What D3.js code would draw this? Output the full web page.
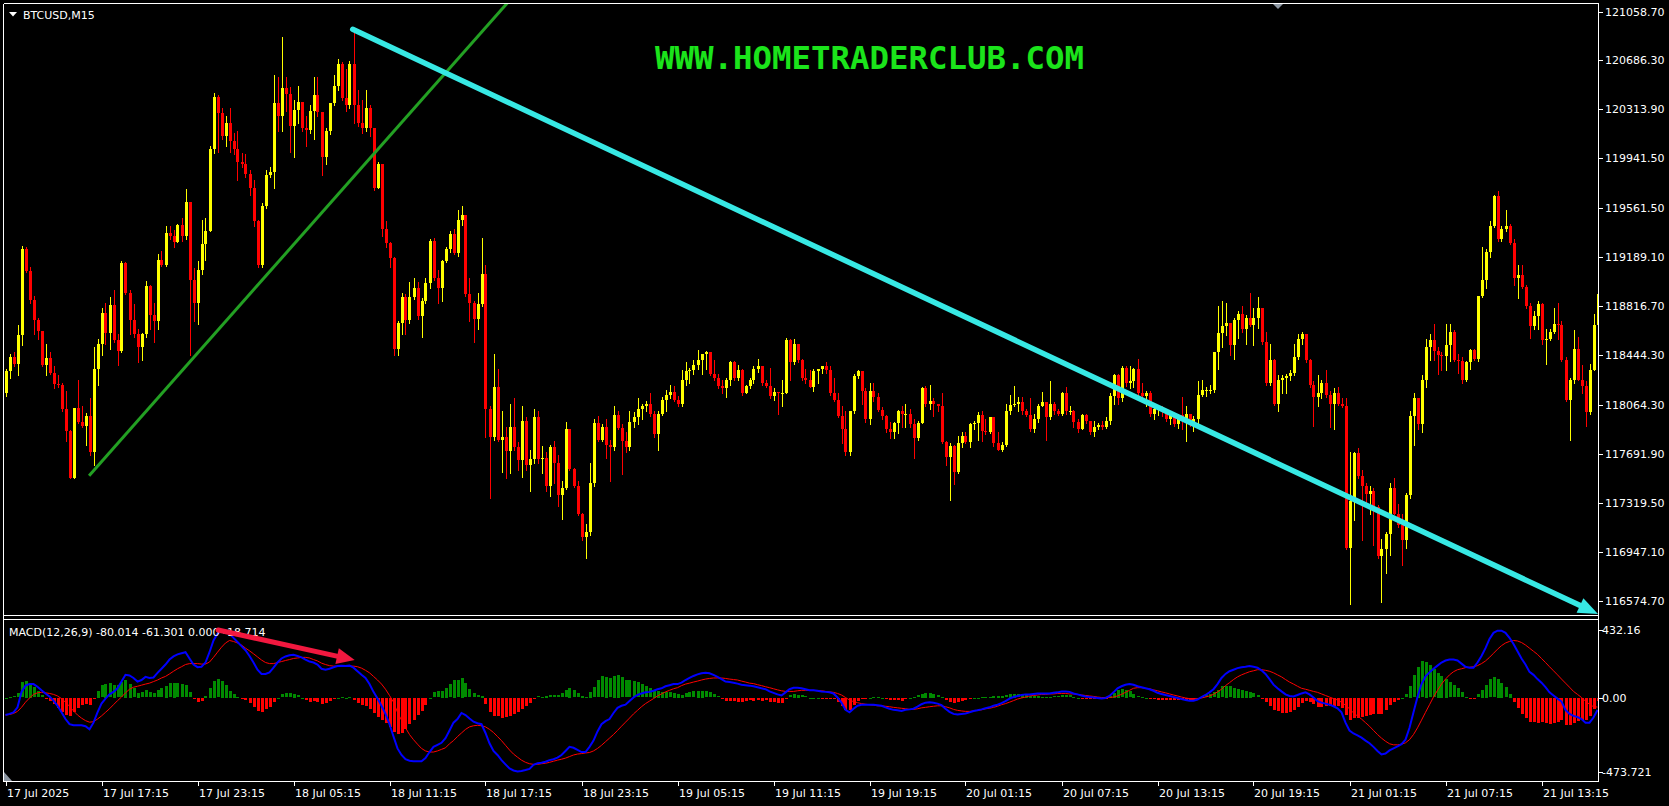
<!DOCTYPE html>
<html>
<head>
<meta charset="utf-8">
<script src="https://cdn.jsdelivr.net/npm/d3@7/dist/d3.min.js"></script>
<style>
  html, body { margin: 0; padding: 0; background: #000; overflow: hidden; }
  svg { display: block; }
</style>
</head>
<body>
<div class="chart"></div>
<script>
var svgWidth = 1669;
var svgHeight = 806;

// ---------------- data ----------------
var symbolLabel = "BTCUSD,M15";
var macdLabel = "MACD(12,26,9) -80.014 -61.301 0.000 -18.714";
var watermark = "WWW.HOMETRADERCLUB.COM";

// M15 bars, open of each bar = close of the bar before
var firstOpen = 118152;
var closes = [
118320,118426,118375,118594,119248,119083,118864,118712,118629,118367,
118418,118308,118226,118218,118034,117866,117506,118042,117937,117905,
117976,117702,118336,118531,118766,118610,118825,118555,118477,119142,
118915,118712,118602,118504,118602,118966,118751,118700,119169,119130,
119373,119346,119306,119432,119346,119612,119013,118837,119091,119287,
119385,120011,120410,120285,120109,120207,120070,120011,119913,119894,
119823,119717,119463,119130,119580,119815,119835,120363,120265,120473,
120434,120187,120312,120371,120168,120160,120305,120422,120293,119952,
120148,120363,120488,120657,120402,120344,120657,120344,120207,120168,
120324,120175,119717,119901,119404,119299,119181,118492,118688,118884,
118712,118884,118954,118739,118856,118993,119314,119033,118954,119158,
119248,119365,119220,119471,119510,118907,118837,118719,118829,119064,
118034,117819,118203,117800,117819,117710,117897,117741,117643,117944,
117604,117655,117968,117655,117663,117447,117741,117624,117381,117428,
117878,117576,117447,117232,117056,117095,117467,117929,117800,117897,
117760,117741,117984,117890,117788,117741,117937,117968,118034,118054,
118074,117995,117839,117995,118101,118140,118164,118101,118074,118250,
118320,118328,118367,118406,118453,118465,118297,118269,118211,118191,
118250,118387,118269,118328,118152,118211,118250,118336,118359,118230,
118211,118132,118164,118152,118152,118555,118387,118531,118406,118269,
118250,118203,118320,118336,118359,118328,118152,118101,117976,117878,
117702,118015,118281,118320,118171,117956,118171,118124,118022,117976,
117878,117858,117929,118015,117995,117995,117917,117811,117929,118191,
118074,118093,118074,118054,117780,117670,117749,117553,117772,117827,
117780,117917,117929,117984,117866,117858,117968,117772,117721,117760,
118015,118062,118074,118085,118015,117984,117878,117956,118054,118085,
117968,118074,118015,117995,118152,118015,118015,117937,117878,117984,
117944,117858,117897,117913,117897,117944,118132,118289,118113,118348,
118230,118242,118336,118152,118132,118152,117995,118034,118046,118015,
117956,117984,117917,117984,117956,117995,117937,117956,118140,118179,
118179,118179,118465,118610,118661,118688,118516,118712,118759,118641,
118727,118672,118727,118798,118543,118230,118406,118074,118250,118269,
118281,118308,118426,118563,118602,118406,118218,118124,118152,118230,
118140,118074,118152,118074,118054,116978,117330,117694,117526,117447,
117389,117408,117290,116911,116966,117083,117428,117232,117146,117036,
117381,117976,118113,117917,118250,118504,118555,118477,118445,118438,
118516,118621,118406,118398,118257,118387,118485,118414,118896,119013,
119228,119424,119651,119326,119404,119424,119299,119033,119052,118962,
118817,118661,118739,118829,118555,118563,118621,118680,118672,118406,
118101,118257,118492,118257,118211,118007,118328,118672,118907
];
var highs = [
118336,118453,118465,118672,119275,119267,119111,118895,118727,118621,
118531,118465,118359,118289,118230,118171,117870,118042,118257,118054,
118003,118113,118504,118563,118798,118837,118884,118935,118602,119158,
119150,118935,118829,118641,118610,119005,118974,118837,119209,119236,
119424,119424,119393,119443,119483,119706,119612,119103,119158,119471,
119483,120031,120441,120422,120324,120265,120324,120136,120148,119980,
119972,119854,119776,119471,119600,119854,119874,120578,120559,120864,
120559,120481,120383,120488,120371,120265,120344,120559,120559,120293,
120168,120363,120578,120696,120676,120622,120684,120892,120461,120383,
120461,120344,120175,119913,119901,119463,119306,119189,118700,118915,
118907,119001,119033,119001,118876,119033,119326,119338,119091,119169,
119267,119385,119404,119549,119580,119510,119033,118856,118915,119338,
119130,118054,118453,118336,118015,117897,118074,118113,117780,118054,
117968,117721,118034,118015,117749,117702,117760,117788,117682,117486,
117937,117878,117584,117486,117240,117154,117624,117956,117976,117917,
117956,117800,118054,118015,117917,117858,118015,118007,118113,118074,
118093,118152,118015,118015,118125,118179,118218,118211,118132,118328,
118387,118348,118406,118484,118453,118477,118465,118406,118297,118250,
118269,118395,118395,118367,118336,118218,118269,118359,118414,118359,
118257,118348,118191,118164,118250,118571,118563,118563,118524,118414,
118336,118328,118336,118336,118359,118387,118359,118269,118152,118054,
118015,118015,118297,118328,118297,118191,118230,118230,118152,118046,
117984,117937,117937,118023,118054,118074,118034,117956,117944,118203,
118211,118218,118113,118074,118152,117788,117772,117760,117827,117858,
117858,117929,117944,118007,118015,117956,117968,117890,117858,117780,
118074,118140,118211,118124,118124,118034,118113,117995,118074,118164,
118085,118242,118085,118034,118164,118203,118054,118023,117956,117995,
117995,117937,117944,117925,117944,117968,118152,118297,118297,118359,
118359,118359,118348,118414,118230,118171,118171,118046,118062,118054,
118015,118015,117995,117995,118124,118054,117984,117976,118242,118257,
118203,118218,118465,118817,118856,118837,118688,118727,118778,118817,
118751,118915,118798,118884,118798,118622,118531,118414,118289,118289,
118297,118328,118524,118602,118621,118602,118414,118242,118289,118250,
118328,118171,118191,118203,118113,118113,117702,117702,117733,117565,
117467,117447,117428,117299,117044,117095,117467,117506,117310,117232,
117396,118015,118152,118093,118289,118563,118602,118680,118504,118465,
118680,118680,118633,118453,118426,118398,118492,118492,118896,119267,
119248,119463,119659,119690,119424,119549,119443,119326,119130,119130,
118974,118837,118778,118856,118837,118641,118641,118798,118837,118700,
118426,118269,118633,118582,118367,118242,118375,118758,119169
];
var lows = [
118132,118269,118359,118289,118516,119072,118837,118602,118563,118359,
118289,118297,118191,118203,118015,117788,117506,117506,117925,117897,
117760,117682,117604,118218,118445,118524,118492,118543,118367,118465,
118907,118602,118582,118387,118406,118582,118641,118543,118641,119119,
119119,119326,119267,119306,119314,119326,118445,118700,118680,119064,
119169,119463,119980,119991,120089,120031,119991,119972,119776,119874,
119796,119659,119424,119111,119111,119561,119796,119717,120148,120148,
120305,119991,119952,120207,120148,120038,120136,120089,120265,119815,
119901,120128,120344,120461,120383,120305,120324,120207,120187,120136,
120148,120109,119698,119717,119346,119267,119111,118445,118445,118602,
118602,118688,118868,118720,118582,118837,118954,119013,118837,118856,
119150,119228,119209,119200,119432,118895,118700,118543,118641,118817,
117819,117357,117800,117788,117553,117506,117545,117721,117565,117514,
117565,117408,117623,117623,117545,117408,117369,117467,117291,117193,
117420,117565,117436,117224,117036,116899,117075,117447,117788,117788,
117663,117486,117721,117878,117537,117702,117721,117897,117917,117956,
118015,117976,117819,117721,117984,118015,118113,118093,118054,118054,
118218,118230,118297,118336,118297,118336,118289,118250,118191,118152,
118124,118218,118250,118257,118140,118152,118191,118230,118312,118218,
118203,118113,118101,117995,118054,118152,118250,118375,118387,118250,
118230,118203,118171,118230,118308,118308,118140,118093,117968,117772,
117682,117682,118003,118269,118074,117937,117917,118093,118015,117956,
117858,117811,117811,117850,117897,117897,117897,117663,117800,117929,
118054,118034,117976,118015,117772,117604,117342,117459,117545,117741,
117772,117741,117878,117800,117788,117839,117850,117749,117721,117710,
117749,117995,118054,118015,117995,117976,117866,117858,117937,118054,
117800,117956,117995,117984,117984,117995,117995,117897,117858,117878,
117929,117839,117827,117878,117878,117890,117917,118074,118074,118093,
118211,118191,118203,118140,118113,118054,117976,117956,117984,117976,
117944,117917,117905,117890,117878,117788,117905,117866,117917,118132,
118132,118152,118164,118336,118504,118594,118445,118414,118571,118622,
118531,118661,118516,118649,118531,118218,118218,118062,118015,118152,
118152,118257,118289,118414,118531,118387,118203,117905,118054,118113,
118124,117897,117878,118062,118046,116966,116547,117185,117506,117036,
117310,117232,116997,116899,116567,116782,116919,117232,117134,116848,
116977,117357,117760,117878,117858,118203,118406,118406,118296,118328,
118328,118398,118398,118308,118230,118242,118336,118406,118398,118884,
118954,119189,119416,119314,119314,119385,119287,118974,118876,118954,
118805,118571,118641,118641,118531,118375,118555,118610,118563,118398,
118093,117800,118230,118250,118152,117905,117995,118328,118672
];

// MACD main (blue) and signal (red), one value per bar
var macdMain = [
-112,-105,-95,-63,36,76,86,86,69,46,
26,7,-20,-53,-95,-138,-171,-178,-178,-178,
-184,-204,-161,-95,-39,-7,20,36,59,102,
145,141,125,102,112,132,125,128,158,184,
211,243,263,276,283,290,250,211,194,197,
224,290,365,408,428,431,408,382,355,329,
303,266,224,178,151,151,161,191,224,250,
263,270,273,266,257,243,230,224,211,184,
178,184,194,201,204,201,204,191,168,145,
125,86,36,-7,-53,-105,-171,-250,-326,-368,
-395,-405,-408,-408,-408,-388,-349,-316,-303,-290,
-260,-211,-161,-138,-99,-112,-135,-155,-165,-171,
-227,-293,-342,-368,-401,-428,-454,-467,-474,-470,
-464,-457,-431,-421,-418,-411,-401,-395,-385,-368,
-342,-316,-322,-336,-349,-349,-316,-276,-217,-171,
-151,-138,-99,-66,-53,-46,-23,0,16,26,
33,36,43,53,59,72,79,86,86,95,
112,125,138,148,155,158,155,145,132,118,
102,99,95,89,82,79,76,72,66,59,
53,39,30,20,13,33,53,62,62,59,
53,46,46,43,39,36,33,26,0,-33,
-79,-95,-72,-53,-46,-46,-46,-46,-49,-53,
-63,-72,-79,-82,-86,-79,-76,-72,-59,-43,
-33,-30,-33,-39,-49,-72,-92,-105,-109,-105,
-102,-95,-86,-82,-76,-69,-63,-53,-46,-36,
-23,-7,3,10,16,20,20,23,26,26,
26,26,30,33,39,39,36,26,20,13,
7,3,0,-3,-7,-3,10,33,59,72,
82,86,82,72,66,59,53,43,30,23,
16,10,3,-3,-10,-16,-20,-20,-13,3,
16,33,53,86,125,151,168,178,188,194,
197,201,197,191,174,151,118,82,59,39,
20,10,7,16,26,33,20,0,-23,-33,
-39,-46,-56,-69,-95,-161,-211,-230,-243,-257,
-276,-293,-316,-342,-365,-359,-339,-326,-313,-299,
-270,-194,-95,3,86,135,161,184,204,224,
237,243,243,237,217,197,191,191,224,266,
316,375,414,428,428,414,382,342,296,250,
211,164,145,118,95,66,33,13,-7,-26,
-79,-105,-118,-125,-138,-161,-161,-128,-80
];
var macdSignal = [
-112,-109,-102,-89,-63,-30,-3,20,30,33,
30,26,20,10,-7,-30,-56,-86,-112,-132,
-148,-158,-155,-138,-118,-95,-72,-46,-20,3,
30,53,66,72,79,86,92,102,112,125,
135,151,168,184,197,211,217,217,217,214,
214,227,257,290,322,349,365,359,349,336,
316,299,280,260,240,224,217,217,224,230,
237,243,250,253,257,257,253,243,234,220,
211,204,201,201,201,201,201,201,197,188,
174,158,135,112,86,53,13,-30,-95,-145,
-194,-237,-270,-299,-326,-342,-349,-349,-342,-332,
-322,-296,-276,-250,-227,-204,-188,-181,-178,-181,
-188,-204,-224,-250,-276,-306,-336,-362,-382,-401,
-415,-424,-428,-428,-424,-421,-415,-408,-401,-395,
-388,-378,-368,-362,-359,-355,-352,-342,-326,-306,
-283,-260,-237,-211,-184,-158,-132,-105,-82,-59,
-39,-23,-7,10,23,36,46,56,63,76,
86,92,99,105,112,118,122,125,125,125,
122,118,115,112,105,99,92,89,82,76,
69,63,56,49,43,39,39,39,43,46,
46,46,46,43,43,39,36,33,26,16,
0,-16,-26,-33,-39,-43,-46,-49,-53,-53,
-56,-59,-63,-66,-69,-72,-76,-76,-72,-66,
-63,-59,-56,-53,-53,-59,-66,-76,-82,-86,
-89,-89,-86,-82,-79,-72,-69,-63,-56,-46,
-39,-30,-20,-10,-3,3,10,13,16,20,
20,23,23,26,26,26,23,23,20,16,
13,10,7,3,0,0,0,3,10,20,
33,46,59,63,63,59,56,49,43,36,
30,23,16,10,3,-3,-7,-7,-7,-3,
3,10,20,36,53,76,95,115,132,145,
155,165,171,178,178,174,168,158,145,132,
115,99,86,72,59,53,46,39,33,23,
13,3,-7,-16,-30,-49,-72,-99,-118,-138,
-161,-184,-211,-237,-260,-280,-296,-303,-303,-299,
-290,-270,-237,-194,-145,-95,-46,3,46,86,
118,145,165,178,184,191,194,197,204,217,
234,257,283,309,332,349,359,365,362,352,
336,316,296,276,250,224,197,171,145,118,
92,66,39,20,0,-23,-43,-59,-61
];

var priceTicks = [121058.70, 120686.30, 120313.90, 119941.50, 119561.50, 119189.10,
  118816.70, 118444.30, 118064.30, 117691.90, 117319.50, 116947.10, 116574.70];
var macdTicks = ["432.16", "0.00", "-473.721"];
var timeLabels = ["17 Jul 2025", "17 Jul 17:15", "17 Jul 23:15", "18 Jul 05:15", "18 Jul 11:15",
  "18 Jul 17:15", "18 Jul 23:15", "19 Jul 05:15", "19 Jul 11:15", "19 Jul 19:15", "20 Jul 01:15",
  "20 Jul 07:15", "20 Jul 13:15", "20 Jul 19:15", "21 Jul 01:15", "21 Jul 07:15", "21 Jul 13:15"];
var barsPerLabel = 24;

// hand drawn objects: [bar index, value]
var greenTrend = [[20.9, 117525], [112.4, 120674]];
var cyanTrend = [[86.8, 120923], [398.15, 116472]];
var macdArrow = [[53.15, 432], [87.3, 240]];

// ---------------- layout ----------------
var frame = { left: 3.5, right: 1598.5, top: 3.5, priceBottom: 615.5, macdTop: 619.5, bottom: 781.5 };
var font = "DejaVu Sans, Verdana, sans-serif";

var svg = d3.select(".chart")
    .append("svg")
    .attr("width", svgWidth)
    .attr("height", svgHeight)
    .style("background", "#000");

var defs = svg.append("defs");
defs.append("clipPath").attr("id", "clipPrice")
    .append("rect").attr("x", 4).attr("y", 4).attr("width", 1594).attr("height", 611);
defs.append("clipPath").attr("id", "clipMacd")
    .append("rect").attr("x", 4).attr("y", 620).attr("width", 1594).attr("height", 161);

var xScale = d3.scaleLinear().domain([0, closes.length - 1]).range([5.5, 1597.5]);
var yPrice = d3.scaleLinear().domain([116574.7, 121058.7]).range([600.5, 11.5]);
var yMacd = d3.scaleLinear().domain([-473.721, 432.16]).range([771.5, 630]);

var bars = closes.map(function(c, i) {
  return { i: i, o: i === 0 ? firstOpen : closes[i - 1], c: c, h: highs[i], l: lows[i] };
});

function px(i) { return Math.round(xScale(i)); }

// ---------------- price panel ----------------
var pricePanel = svg.append("g").attr("clip-path", "url(#clipPrice)");

pricePanel.append("text")
    .attr("x", 655)
    .attr("y", 69)
    .attr("fill", "#1be41b")
    .attr("font-family", "DejaVu Sans Mono, monospace")
    .attr("font-weight", "bold")
    .attr("font-size", "32.4px")
    .text(watermark);

var candles = pricePanel.append("g").attr("shape-rendering", "crispEdges");

candles.selectAll(".wick")
    .data(bars)
    .join("line")
    .attr("class", "wick")
    .attr("x1", d => px(d.i) + 0.5)
    .attr("x2", d => px(d.i) + 0.5)
    .attr("y1", d => Math.round(yPrice(Math.max(d.h, d.o, d.c))))
    .attr("y2", d => Math.round(yPrice(Math.min(d.l, d.o, d.c))) + 1)
    .attr("stroke", d => d.c >= d.o ? "#ffff00" : "#ff0000")
    .attr("stroke-width", 1);

candles.selectAll(".body")
    .data(bars)
    .join("rect")
    .attr("class", "body")
    .attr("x", d => px(d.i) - 1)
    .attr("width", 3)
    .attr("y", d => Math.round(yPrice(Math.max(d.o, d.c))))
    .attr("height", d => Math.max(1, Math.round(yPrice(Math.min(d.o, d.c))) - Math.round(yPrice(Math.max(d.o, d.c)))))
    .attr("fill", d => d.c >= d.o ? "#ffff00" : "#ff0000");

// green support ray
var g0 = [xScale(greenTrend[0][0]), yPrice(greenTrend[0][1])];
var g1 = [xScale(greenTrend[1][0]), yPrice(greenTrend[1][1])];
pricePanel.append("line")
    .attr("x1", g0[0]).attr("y1", g0[1])
    .attr("x2", g0[0] + (g1[0] - g0[0]) * 3).attr("y2", g0[1] + (g1[1] - g0[1]) * 3)
    .attr("stroke", "#23a023")
    .attr("stroke-width", 3);

// cyan trend arrow
function arrow(group, pts, sx, sy, color, width, len, half) {
  var a = [sx(pts[0][0]), sy(pts[0][1])];
  var b = [sx(pts[1][0]), sy(pts[1][1])];
  var dx = b[0] - a[0], dy = b[1] - a[1];
  var n = Math.sqrt(dx * dx + dy * dy);
  var ux = dx / n, uy = dy / n;
  var base = [b[0] - ux * len, b[1] - uy * len];
  group.append("line")
      .attr("x1", a[0]).attr("y1", a[1])
      .attr("x2", base[0] + ux * 2).attr("y2", base[1] + uy * 2)
      .attr("stroke", color)
      .attr("stroke-width", width)
      .attr("stroke-linecap", "round");
  group.append("polygon")
      .attr("points", [b, [base[0] - uy * half, base[1] + ux * half], [base[0] + uy * half, base[1] - ux * half]]
        .map(p => p.join(",")).join(" "))
      .attr("fill", color);
}
arrow(pricePanel, cyanTrend, xScale, yPrice, "#37e8e4", 5.5, 20, 8);

// ---------------- MACD panel ----------------
var macdPanel = svg.append("g").attr("clip-path", "url(#clipMacd)");

macdPanel.append("g")
    .attr("shape-rendering", "crispEdges")
    .selectAll("rect")
    .data(macdMain.map((m, i) => ({ i: i, h: m - macdSignal[i] })))
    .join("rect")
    .attr("x", d => px(d.i) - 1)
    .attr("width", 3)
    .attr("y", d => Math.round(Math.min(yMacd(0), yMacd(d.h))))
    .attr("height", d => Math.max(1, Math.round(Math.abs(yMacd(d.h) - yMacd(0)))))
    .attr("fill", d => d.h >= 0 ? "#008a00" : "#ff0000");

var macdLine = d3.line().x((d, i) => xScale(i)).y(d => yMacd(d));

macdPanel.append("path")
    .attr("d", macdLine(macdSignal))
    .attr("fill", "none")
    .attr("stroke", "#ff0000")
    .attr("stroke-width", 1);

macdPanel.append("path")
    .attr("d", macdLine(macdMain))
    .attr("fill", "none")
    .attr("stroke", "#0000ff")
    .attr("stroke-width", 2);

macdPanel.append("text")
    .attr("x", 9)
    .attr("y", 636)
    .attr("fill", "#ffffff")
    .attr("font-family", font)
    .attr("font-size", "11px")
    .text(macdLabel);

arrow(macdPanel, macdArrow, xScale, yMacd, "#f2183f", 5, 18, 8);

// ---------------- frame, axes, labels ----------------
var frameG = svg.append("g")
    .attr("stroke", "#ffffff")
    .attr("stroke-width", 1)
    .attr("shape-rendering", "crispEdges");
frameG.append("line").attr("x1", frame.left).attr("x2", frame.left).attr("y1", frame.top).attr("y2", frame.bottom);
frameG.append("line").attr("x1", frame.right).attr("x2", frame.right).attr("y1", frame.top).attr("y2", frame.bottom);
[frame.top, frame.priceBottom, frame.macdTop, frame.bottom].forEach(function(y) {
  frameG.append("line").attr("x1", frame.left).attr("x2", frame.right).attr("y1", y).attr("y2", y);
});

// price axis
var priceAxis = svg.append("g");
priceAxis.selectAll("line")
    .data(priceTicks)
    .join("line")
    .attr("x1", 1599).attr("x2", 1603)
    .attr("y1", d => Math.round(yPrice(d)) + 0.5)
    .attr("y2", d => Math.round(yPrice(d)) + 0.5)
    .attr("stroke", "#ffffff")
    .attr("shape-rendering", "crispEdges");
priceAxis.selectAll("text")
    .data(priceTicks)
    .join("text")
    .attr("x", 1605)
    .attr("y", d => yPrice(d) + 4)
    .attr("fill", "#ffffff")
    .attr("font-family", font)
    .attr("font-size", "11px")
    .text(d => d.toFixed(2));

// macd axis
var macdAxis = svg.append("g");
macdAxis.selectAll("line")
    .data(macdTicks)
    .join("line")
    .attr("x1", 1599).attr("x2", 1603)
    .attr("y1", d => Math.round(yMacd(+d)) + 0.5)
    .attr("y2", d => Math.round(yMacd(+d)) + 0.5)
    .attr("stroke", "#ffffff")
    .attr("shape-rendering", "crispEdges");
macdAxis.selectAll("text")
    .data(macdTicks)
    .join("text")
    .attr("x", 1602)
    .attr("y", d => yMacd(+d) + 4)
    .attr("fill", "#ffffff")
    .attr("font-family", font)
    .attr("font-size", "11px")
    .text(d => d);

// time axis
var timeAxis = svg.append("g");
timeAxis.selectAll("line")
    .data(timeLabels)
    .join("line")
    .attr("x1", (d, k) => px(k * barsPerLabel) + 0.5)
    .attr("x2", (d, k) => px(k * barsPerLabel) + 0.5)
    .attr("y1", 782).attr("y2", 786)
    .attr("stroke", "#ffffff")
    .attr("shape-rendering", "crispEdges");
timeAxis.selectAll("text")
    .data(timeLabels)
    .join("text")
    .attr("x", (d, k) => px(k * barsPerLabel) + 1)
    .attr("y", 797)
    .attr("fill", "#ffffff")
    .attr("font-family", font)
    .attr("font-size", "11px")
    .text(d => d);

// symbol caption and small markers
svg.append("polygon").attr("points", "9,12 17,12 13,16.5").attr("fill", "#ffffff");
svg.append("text")
    .attr("x", 23)
    .attr("y", 19)
    .attr("fill", "#ffffff")
    .attr("font-family", font)
    .attr("font-size", "11px")
    .text(symbolLabel);
svg.append("polygon").attr("points", "1273,4 1283,4 1278,9").attr("fill", "#8d97a3");
svg.append("polygon").attr("points", "4,772 4,781 12,781").attr("fill", "#8d97a3");
</script>
</body>
</html>
